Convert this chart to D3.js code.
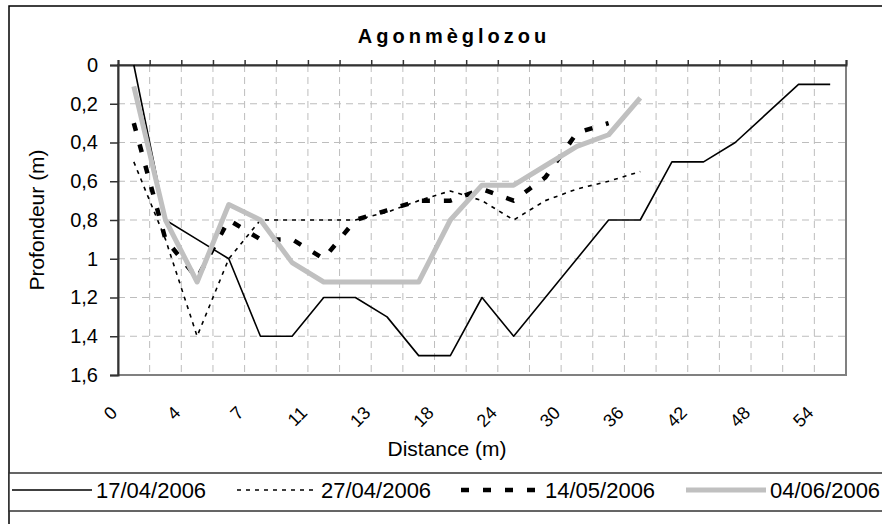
<!DOCTYPE html>
<html>
<head>
<meta charset="utf-8">
<script src="https://cdn.jsdelivr.net/npm/d3@7"></script>
<style>
  body { margin: 0; background: #fff; }
  svg { display: block; }
  text { font-family: "Liberation Sans", Arial, sans-serif; fill: #000; }
</style>
</head>
<body>
<svg id="chart" width="882" height="524"></svg>
<script>
// Cross-section of the Agonmèglozou channel: depth (m) along distance (m)
const distances = [0, 2, 4, 5, 7, 9, 11, 12, 13, 15, 18, 21, 24, 27, 30, 33, 36, 39, 42, 45, 48, 51, 54];
const labelledDistances = [0, 4, 7, 11, 13, 18, 24, 30, 36, 42, 48, 54];
const depthTicks = [0, 0.2, 0.4, 0.6, 0.8, 1, 1.2, 1.4, 1.6];

const seriesNames = ["17/04/2006", "27/04/2006", "14/05/2006", "04/06/2006"];
const depth_17_04 = [0, 0.8, 0.9, 1, 1.4, 1.4, 1.2, 1.2, 1.3, 1.5, 1.5, 1.2, 1.4, 1.2, 1, 0.8, 0.8, 0.5, 0.5, 0.4, 0.25, 0.1, 0.1];
const depth_27_04 = [0.5, 0.9, 1.4, 1, 0.8, 0.8, 0.8, 0.8, 0.76, 0.7, 0.65, 0.7, 0.8, 0.7, 0.64, 0.6, 0.55];
const depth_14_05 = [0.3, 0.9, 1.1, 0.8, 0.9, 0.9, 1, 0.8, 0.75, 0.7, 0.7, 0.64, 0.7, 0.58, 0.35, 0.3];
const depth_04_06 = [0.11, 0.8, 1.12, 0.72, 0.8, 1.02, 1.12, 1.12, 1.12, 1.12, 0.8, 0.62, 0.62, 0.52, 0.42, 0.36, 0.17];

const seriesStyles = [
  { stroke: "#000", width: 1.6, dash: null },
  { stroke: "#000", width: 1.6, dash: "4,5" },
  { stroke: "#000", width: 4.5, dash: "8,14" },
  { stroke: "#c0c0c0", width: 5, dash: null }
];
const seriesValues = [depth_17_04, depth_27_04, depth_14_05, depth_04_06];

const svg = d3.select("#chart");
const plot = { left: 118, right: 846, top: 65, bottom: 375 };

// outer chart frame
svg.append("rect")
  .attr("x", 9).attr("y", 6).attr("width", 900).attr("height", 540)
  .attr("fill", "#fff").attr("stroke", "#000").attr("stroke-width", 1.5);

const x = d3.scaleBand().domain(distances).range([plot.left, plot.right]).padding(0);
const bw = x.bandwidth();
const xEdge = d3.scaleLinear().domain([0, distances.length]).range([plot.left, plot.right]);
const y = d3.scaleLinear().domain([0, 1.6]).range([plot.top, plot.bottom]);

// plot background and grey border (right / bottom)
svg.append("rect")
  .attr("x", plot.left).attr("y", plot.top)
  .attr("width", plot.right - plot.left).attr("height", plot.bottom - plot.top)
  .attr("fill", "#fff").attr("stroke", "#808080").attr("stroke-width", 2);

// dashed gridlines
const grid = svg.append("g").attr("stroke", "#bdbdbd").attr("stroke-width", 1).attr("stroke-dasharray", "7,5");
grid.selectAll("line.h").data(depthTicks.slice(1, -1)).join("line")
  .attr("x1", plot.left).attr("x2", plot.right)
  .attr("y1", d => y(d)).attr("y2", d => y(d));
grid.selectAll("line.v").data(d3.range(1, distances.length)).join("line")
  .attr("x1", d => xEdge(d)).attr("x2", d => xEdge(d))
  .attr("y1", plot.top).attr("y2", plot.bottom);

// depth axis (left)
const yAxis = d3.axisLeft(y).tickValues(depthTicks).tickSize(8).tickPadding(12)
  .tickFormat(d => String(+d.toFixed(1)).replace(".", ","));
const gy = svg.append("g").attr("transform", `translate(${plot.left},0)`).call(yAxis);
gy.select(".domain").attr("stroke", "#333").attr("stroke-width", 2);
gy.selectAll(".tick line").attr("stroke", "#333").attr("stroke-width", 1.5);
gy.selectAll(".tick text").attr("font-size", 20).attr("fill", "#000");

// distance axis line at depth 0 (top) with tick marks between categories
const xTop = d3.axisTop(xEdge).tickValues(d3.range(0, distances.length + 1)).tickSize(5).tickFormat("");
const gt = svg.append("g").attr("transform", `translate(0,${plot.top})`).call(xTop);
gt.select(".domain").attr("stroke", "#333").attr("stroke-width", 2);
gt.selectAll(".tick line").attr("stroke", "#333").attr("stroke-width", 1.5);

// distance labels below the plot, rotated
const xAxis = d3.axisBottom(x).tickValues(labelledDistances).tickSize(0);
const gx = svg.append("g").attr("transform", `translate(0,${plot.bottom})`).call(xAxis);
gx.select(".domain").remove();
gx.selectAll(".tick text")
  .attr("font-size", 18).attr("fill", "#000")
  .attr("x", 0).attr("y", 0).attr("dy", 0)
  .attr("text-anchor", "end")
  .attr("transform", "translate(-15.5,39) rotate(-45)");

// series lines
const line = d3.line()
  .x((d, i) => x(distances[i]) + bw / 2)
  .y(d => y(d));
seriesValues.forEach((vals, k) => {
  const st = seriesStyles[k];
  svg.append("path")
    .datum(vals)
    .attr("fill", "none")
    .attr("stroke", st.stroke)
    .attr("stroke-width", st.width)
    .attr("stroke-dasharray", st.dash)
    .attr("stroke-linejoin", "round")
    .attr("d", line);
});

// titles
svg.append("text").attr("x", 454).attr("y", 43).attr("text-anchor", "middle")
  .attr("font-size", 20).attr("font-weight", "bold").attr("letter-spacing", 4)
  .text("Agonmèglozou");
svg.append("text").attr("x", 447).attr("y", 456).attr("text-anchor", "middle")
  .attr("font-size", 21).text("Distance (m)");
svg.append("text").attr("transform", "translate(44,220) rotate(-90)").attr("text-anchor", "middle")
  .attr("font-size", 21).text("Profondeur (m)");

// legend
svg.append("rect").attr("x", 9).attr("y", 473).attr("width", 900).attr("height", 38)
  .attr("fill", "#fff").attr("stroke", "#333").attr("stroke-width", 1.5);
const legendX = [12, 237, 461, 686];
const sampleLen = 80;
seriesNames.forEach((name, k) => {
  const st = seriesStyles[k];
  const g = svg.append("g").attr("transform", `translate(${legendX[k]},490)`);
  g.append("line").attr("x1", 0).attr("x2", sampleLen).attr("y1", 0).attr("y2", 0)
    .attr("stroke", st.stroke).attr("stroke-width", st.width).attr("stroke-dasharray", st.dash);
  g.append("text").attr("x", sampleLen + 4).attr("y", 0).attr("dy", "0.36em")
    .attr("font-size", 22).text(name);
});
</script>
</body>
</html>
